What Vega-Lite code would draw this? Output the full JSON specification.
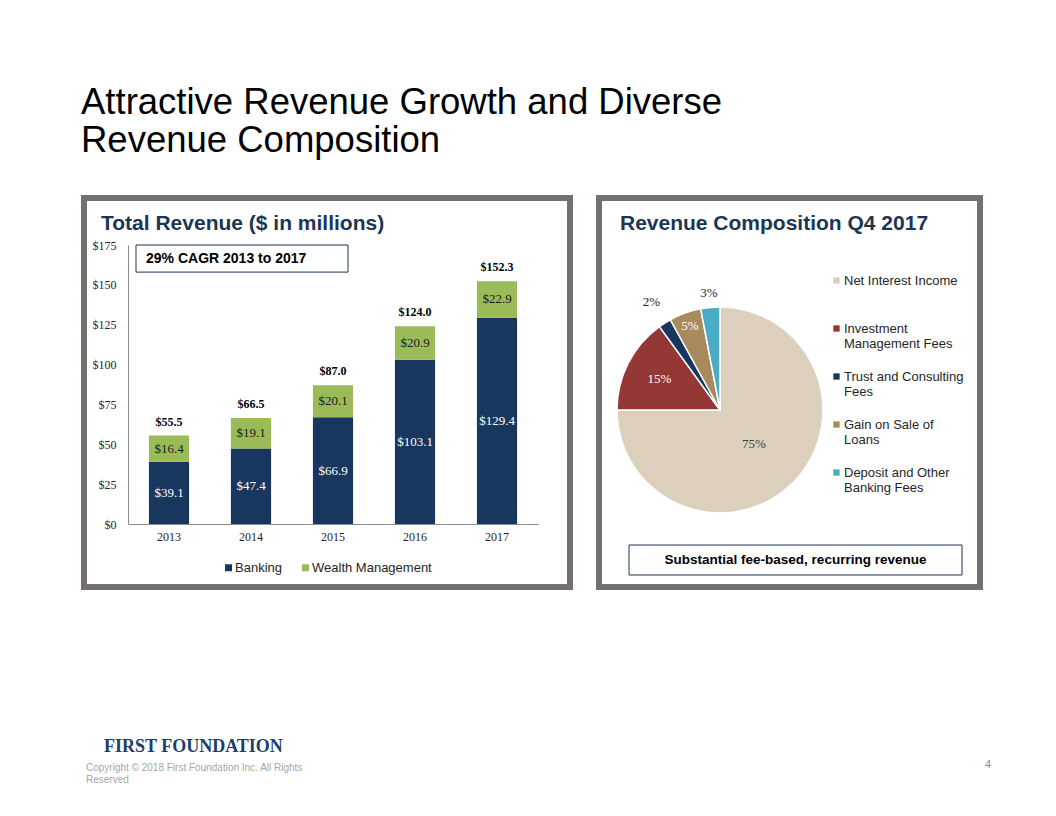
{
  "$schema": "https://vega.github.io/schema/vega-lite/v6.json",
  "background": "white",
  "padding": {"left": 81, "top": 84, "right": 0, "bottom": 0},
  "title": {
    "text": ["Attractive Revenue Growth and Diverse", "Revenue Composition"],
    "anchor": "start",
    "font": "Liberation Sans",
    "fontSize": 36.5,
    "fontWeight": "normal",
    "color": "#000000",
    "lineHeight": 38,
    "offset": 36
  },
  "config": {
    "font": "Liberation Sans"
  },
  "spacing": 147,
  "vconcat": [
    {
      "hconcat": [
        {
          "width": 486,
          "height": 389,
          "view": {"stroke": "#747070", "strokeWidth": 6, "fill": "white"},
          "title": {
            "text": "Total Revenue ($ in millions)",
            "anchor": "start",
            "offset": -36,
            "dx": 17,
            "font": "Liberation Sans",
            "fontSize": 21,
            "fontWeight": "bold",
            "color": "#1c3553"
          },
          "data": {
            "values": [
              {"year": "2013", "series": "Banking", "value": 39.1},
              {"year": "2013", "series": "Wealth Management", "value": 16.4},
              {"year": "2014", "series": "Banking", "value": 47.4},
              {"year": "2014", "series": "Wealth Management", "value": 19.1},
              {"year": "2015", "series": "Banking", "value": 66.9},
              {"year": "2015", "series": "Wealth Management", "value": 20.1},
              {"year": "2016", "series": "Banking", "value": 103.1},
              {"year": "2016", "series": "Wealth Management", "value": 20.9},
              {"year": "2017", "series": "Banking", "value": 129.4},
              {"year": "2017", "series": "Wealth Management", "value": 22.9}
            ]
          },
          "layer": [
            {
              "mark": {"type": "bar"},
              "encoding": {
                "x": {
                  "field": "year",
                  "type": "ordinal",
                  "scale": {"range": [44, 454], "paddingInner": 0.51, "paddingOuter": 0.255},
                  "axis": {
                    "title": null,
                    "orient": "bottom",
                    "offset": -63,
                    "labelAngle": 0,
                    "ticks": false,
                    "domainColor": "#8c8c8c",
                    "labelFont": "Liberation Serif",
                    "labelFontSize": 12,
                    "labelColor": "#262626",
                    "labelPadding": 7
                  }
                },
                "y": {
                  "field": "value",
                  "type": "quantitative",
                  "stack": "zero",
                  "scale": {"domain": [0, 175], "range": [326, 47], "nice": false, "zero": true},
                  "axis": {
                    "title": null,
                    "orient": "left",
                    "offset": -44,
                    "values": [0, 25, 50, 75, 100, 125, 150, 175],
                    "format": "$.0f",
                    "grid": false,
                    "ticks": false,
                    "domainColor": "#8c8c8c",
                    "labelFont": "Liberation Serif",
                    "labelFontSize": 12,
                    "labelColor": "#262626",
                    "labelPadding": 12
                  }
                },
                "order": {"field": "series", "type": "ordinal", "sort": "ascending"},
                "color": {
                  "field": "series",
                  "type": "nominal",
                  "scale": {"domain": ["Banking", "Wealth Management"], "range": ["#17375e", "#9bbb59"]},
                  "legend": {
                    "orient": "none",
                    "legendX": 138,
                    "legendY": 363,
                    "direction": "horizontal",
                    "title": null,
                    "padding": 0,
                    "symbolType": "square",
                    "symbolSize": 49,
                    "symbolStrokeWidth": 0,
                    "labelFont": "Liberation Sans",
                    "labelFontSize": 13,
                    "labelColor": "#262626",
                    "labelOffset": 0,
                    "columnPadding": 17
                  }
                }
              }
            },
            {
              "mark": {"type": "text", "font": "Liberation Serif", "fontSize": 13, "baseline": "middle"},
              "encoding": {
                "x": {"field": "year", "type": "ordinal"},
                "y": {"field": "value", "type": "quantitative", "stack": "zero", "bandPosition": 0.5},
                "order": {"field": "series", "type": "ordinal", "sort": "ascending"},
                "detail": {"field": "series", "type": "nominal"},
                "text": {"field": "value", "type": "quantitative", "format": "$.1f"},
                "color": {
                  "condition": {"test": "datum.series === 'Banking'", "value": "#ffffff"},
                  "value": "#1a1a1a"
                }
              }
            },
            {
              "transform": [
                {"aggregate": [{"op": "sum", "field": "value", "as": "total"}], "groupby": ["year"]}
              ],
              "mark": {"type": "text", "font": "Liberation Serif", "fontSize": 12, "fontWeight": "bold", "baseline": "bottom", "dy": -7, "color": "#000000"},
              "encoding": {
                "x": {"field": "year", "type": "ordinal"},
                "y": {"field": "total", "type": "quantitative"},
                "text": {"field": "total", "type": "quantitative", "format": "$.1f"}
              }
            },
            {
              "data": {"values": [{"note": "29% CAGR 2013 to 2017"}]},
              "mark": {"type": "rect", "fill": "white", "stroke": "#1c3553", "strokeWidth": 1},
              "encoding": {
                "x": {"value": 52},
                "x2": {"value": 264},
                "y": {"datum": 175, "type": "quantitative"},
                "y2": {"datum": 158}
              }
            },
            {
              "data": {"values": [{"note": "29% CAGR 2013 to 2017"}]},
              "mark": {"type": "text", "font": "Liberation Sans", "fontSize": 14, "fontWeight": "bold", "align": "left", "baseline": "middle", "color": "#000000"},
              "encoding": {
                "x": {"value": 62},
                "y": {"datum": 166.5, "type": "quantitative"},
                "text": {"field": "note"}
              }
            }
          ]
        },
        {
          "width": 381,
          "height": 389,
          "view": {"stroke": "#747070", "strokeWidth": 6, "fill": "white"},
          "title": {
            "text": "Revenue Composition  Q4 2017",
            "anchor": "start",
            "offset": -36,
            "dx": 21,
            "font": "Liberation Sans",
            "fontSize": 21,
            "fontWeight": "bold",
            "color": "#1c3553"
          },
          "data": {
            "values": [
              {"category": "Net Interest Income", "share": 0.75, "ord": 1},
              {"category": "Investment Management Fees", "share": 0.15, "ord": 2},
              {"category": "Trust and Consulting Fees", "share": 0.02, "ord": 3},
              {"category": "Gain on Sale of Loans", "share": 0.05, "ord": 4},
              {"category": "Deposit and Other Banking Fees", "share": 0.03, "ord": 5}
            ]
          },
          "layer": [
            {
              "mark": {"type": "arc", "outerRadius": 103, "stroke": "white", "strokeWidth": 1.5},
              "encoding": {
                "theta": {"field": "share", "type": "quantitative", "stack": true},
                "order": {"field": "ord", "type": "quantitative"},
                "x": {"value": 121},
                "y": {"value": 212},
                "color": {
                  "field": "category",
                  "type": "nominal",
                  "scale": {
                    "domain": ["Net Interest Income", "Investment Management Fees", "Trust and Consulting Fees", "Gain on Sale of Loans", "Deposit and Other Banking Fees"],
                    "range": ["#dcd0bc", "#953735", "#17375e", "#a98a5c", "#4bacc6"]
                  },
                  "legend": {
                    "orient": "none",
                    "legendX": 231,
                    "legendY": 76,
                    "direction": "vertical",
                    "title": null,
                    "padding": 0,
                    "symbolType": "square",
                    "symbolSize": 40,
                    "symbolStrokeWidth": 0,
                    "labelFont": "Liberation Sans",
                    "labelFontSize": 13,
                    "labelColor": "#262626",
                    "labelLineHeight": 16,
                    "labelLimit": 300,
                    "labelOffset": 1,
                    "rowPadding": 19,
                    "labelExpr": "datum.label == 'Net Interest Income' ? ['Net Interest Income', ' '] : datum.label == 'Investment Management Fees' ? ['Investment', 'Management Fees'] : datum.label == 'Trust and Consulting Fees' ? ['Trust and Consulting', 'Fees'] : datum.label == 'Gain on Sale of Loans' ? ['Gain on Sale of', 'Loans'] : ['Deposit and Other', 'Banking Fees']"
                  }
                }
              }
            },
            {
              "mark": {"type": "text", "radius": 48, "font": "Liberation Serif", "fontSize": 13, "color": "#404040"},
              "encoding": {
                "theta": {"field": "share", "type": "quantitative", "stack": true},
                "order": {"field": "ord", "type": "quantitative"},
                "x": {"value": 121},
                "y": {"value": 212},
                "text": {"condition": {"test": "datum.category === 'Net Interest Income'", "field": "share", "format": ".0%"}, "value": ""}
              }
            },
            {
              "mark": {"type": "text", "radius": 68, "font": "Liberation Serif", "fontSize": 13, "color": "#ffffff"},
              "encoding": {
                "theta": {"field": "share", "type": "quantitative", "stack": true},
                "order": {"field": "ord", "type": "quantitative"},
                "x": {"value": 121},
                "y": {"value": 212},
                "text": {"condition": {"test": "datum.category === 'Investment Management Fees'", "field": "share", "format": ".0%"}, "value": ""}
              }
            },
            {
              "mark": {"type": "text", "radius": 89, "font": "Liberation Serif", "fontSize": 13, "color": "#ffffff"},
              "encoding": {
                "theta": {"field": "share", "type": "quantitative", "stack": true},
                "order": {"field": "ord", "type": "quantitative"},
                "x": {"value": 121},
                "y": {"value": 212},
                "text": {"condition": {"test": "datum.category === 'Gain on Sale of Loans'", "field": "share", "format": ".0%"}, "value": ""}
              }
            },
            {
              "mark": {"type": "text", "radius": 128, "font": "Liberation Serif", "fontSize": 13, "color": "#262626"},
              "encoding": {
                "theta": {"field": "share", "type": "quantitative", "stack": true},
                "order": {"field": "ord", "type": "quantitative"},
                "x": {"value": 121},
                "y": {"value": 212},
                "text": {"condition": {"test": "datum.category === 'Trust and Consulting Fees'", "field": "share", "format": ".0%"}, "value": ""}
              }
            },
            {
              "mark": {"type": "text", "radius": 118, "font": "Liberation Serif", "fontSize": 13, "color": "#262626"},
              "encoding": {
                "theta": {"field": "share", "type": "quantitative", "stack": true},
                "order": {"field": "ord", "type": "quantitative"},
                "x": {"value": 121},
                "y": {"value": 212},
                "text": {"condition": {"test": "datum.category === 'Deposit and Other Banking Fees'", "field": "share", "format": ".0%"}, "value": ""}
              }
            },
            {
              "data": {"values": [{"note": "Substantial fee-based, recurring revenue"}]},
              "mark": {"type": "rect", "fill": "white", "stroke": "#1c3553", "strokeWidth": 1},
              "encoding": {
                "x": {"value": 30},
                "x2": {"value": 363},
                "y": {"value": 347},
                "y2": {"value": 377}
              }
            },
            {
              "data": {"values": [{"note": "Substantial fee-based, recurring revenue"}]},
              "mark": {"type": "text", "font": "Liberation Sans", "fontSize": 13.5, "fontWeight": "bold", "align": "center", "baseline": "middle", "color": "#000000"},
              "encoding": {
                "x": {"value": 196.5},
                "y": {"value": 362},
                "text": {"field": "note"}
              }
            }
          ]
        }
      ],
      "spacing": 23,
      "resolve": {"scale": {"color": "independent", "x": "independent", "y": "independent"}, "legend": {"color": "independent"}}
    },
    {
      "width": 907,
      "height": 48,
      "view": {"stroke": null},
      "data": {"values": [{"logo": "FIRST FOUNDATION", "copyright": "Copyright © 2018 First Foundation Inc. All Rights", "copyright2": "Reserved", "page": "4"}]},
      "layer": [
        {
          "mark": {"type": "text", "font": "Liberation Serif", "fontSize": 18, "fontWeight": "bold", "color": "#1c3d6e", "align": "left", "baseline": "top"},
          "encoding": {"x": {"value": 20}, "y": {"value": 1}, "text": {"field": "logo"}}
        },
        {
          "mark": {"type": "text", "font": "Liberation Sans", "fontSize": 10, "color": "#a6a6a6", "align": "left", "baseline": "middle"},
          "encoding": {"x": {"value": 2}, "y": {"value": 31}, "text": {"field": "copyright"}}
        },
        {
          "mark": {"type": "text", "font": "Liberation Sans", "fontSize": 10, "color": "#a6a6a6", "align": "left", "baseline": "middle"},
          "encoding": {"x": {"value": 2}, "y": {"value": 43}, "text": {"field": "copyright2"}}
        },
        {
          "mark": {"type": "text", "font": "Liberation Sans", "fontSize": 11, "color": "#8c8c8c", "align": "right", "baseline": "middle"},
          "encoding": {"x": {"value": "width"}, "y": {"value": 28}, "text": {"field": "page"}}
        }
      ]
    }
  ]
}
